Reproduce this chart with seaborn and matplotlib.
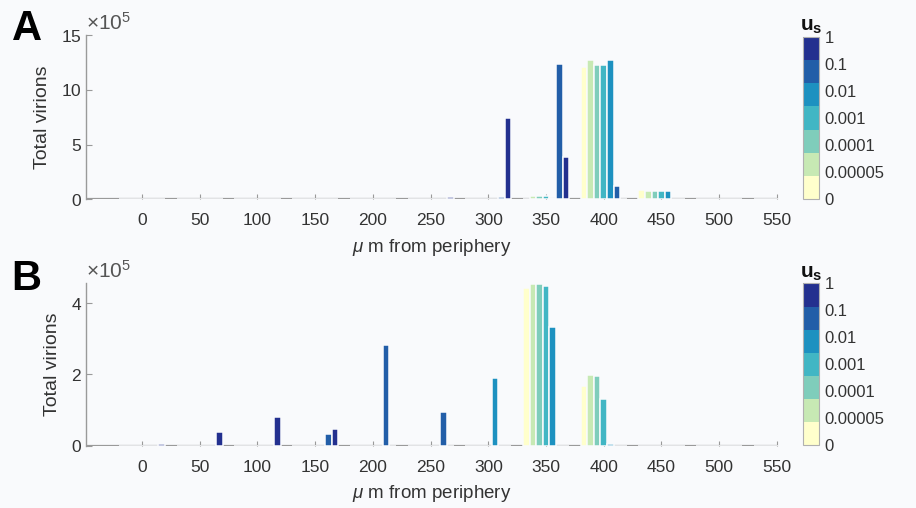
import numpy as np
import pandas as pd
import matplotlib
matplotlib.use("Agg")
import matplotlib.pyplot as plt
import seaborn as sns
from matplotlib.colors import ListedColormap, Normalize
from matplotlib.cm import ScalarMappable

# ---------------- data ----------------
positions = [0, 50, 100, 150, 200, 250, 300, 350, 400, 450, 500, 550]   # um from periphery
us_labels = ["0", "0.00005", "0.0001", "0.001", "0.01", "0.1", "1"]
us_colors = ["#ffffcc", "#c7e9b4", "#7fcdbb", "#41b6c4", "#1d91c0", "#225ea8", "#23308f"]
SCALE = 1e5

# Panel A, total virions (x 1e5), one list per u_s value
A_u0      = [0, 0, 0, 0, 0, 0, 0,    0.05, 12.05, 0.85, 0, 0]
A_u00005  = [0, 0, 0, 0, 0, 0, 0,    0.30, 12.75, 0.80, 0, 0]
A_u0001   = [0, 0, 0, 0, 0, 0, 0,    0.30, 12.30, 0.80, 0, 0]
A_u001    = [0, 0, 0, 0, 0, 0, 0,    0.35, 12.30, 0.80, 0, 0]
A_u01     = [0, 0, 0, 0, 0, 0, 0,    0.10, 12.75, 0.80, 0, 0]
A_u1e1    = [0, 0, 0, 0, 0, 0, 0.26, 12.40, 1.20, 0,    0, 0]
A_u1      = [0, 0, 0, 0, 0, 0.20, 7.40, 3.90, 0,  0,    0, 0]

# Panel B, total virions (x 1e5)
B_u0      = [0, 0, 0, 0, 0, 0, 0,    4.44, 1.69, 0, 0, 0]
B_u00005  = [0, 0, 0, 0, 0, 0, 0,    4.54, 1.98, 0, 0, 0]
B_u0001   = [0, 0, 0, 0, 0, 0, 0,    4.55, 1.95, 0, 0, 0]
B_u001    = [0, 0, 0, 0, 0, 0, 0,    4.48, 1.30, 0, 0, 0]
B_u01     = [0, 0, 0, 0, 0, 0, 1.90, 3.33, 0.05, 0, 0, 0]
B_u1e1    = [0, 0, 0, 0.33, 2.83, 0.95, 0, 0, 0, 0, 0, 0]
B_u1      = [0.05, 0.38, 0.81, 0.47, 0, 0, 0, 0, 0, 0, 0, 0]

A_series = [A_u0, A_u00005, A_u0001, A_u001, A_u01, A_u1e1, A_u1]
B_series = [B_u0, B_u00005, B_u0001, B_u001, B_u01, B_u1e1, B_u1]

xticks = list(range(0, 551, 50))
A_yticks = [0, 5, 10, 15]
B_yticks = [0, 2, 4]

# ---------------- style ----------------
BG = "#f9fafc"
TXT = "#333333"
GRAY = "#9a9a9a"
sns.set_style("white")
plt.rcParams["font.family"] = ["Liberation Sans", "DejaVu Sans"]
plt.rcParams["mathtext.fontset"] = "custom"
plt.rcParams["mathtext.rm"] = "Liberation Sans"
plt.rcParams["mathtext.bf"] = "Liberation Sans:bold"
plt.rcParams["mathtext.it"] = "Liberation Sans:italic"


def long_df(series):
    rows = []
    for lab, vals in zip(us_labels, series):
        for p, v in zip(positions, vals):
            rows.append({"pos": p, "us": lab, "virions": v * SCALE})
    return pd.DataFrame(rows)


fig = plt.figure(figsize=(9.16, 5.08), dpi=100, facecolor=BG)

axA = fig.add_axes([0.0939, 0.6073, 0.7555, 0.3238])
axB = fig.add_axes([0.0939, 0.1226, 0.7555, 0.3197])
caxA = fig.add_axes([0.8763, 0.6077, 0.0181, 0.3201])
caxB = fig.add_axes([0.8763, 0.1240, 0.0181, 0.3180])

palette = dict(zip(us_labels, us_colors))
cmap = ListedColormap(us_colors)

for ax, series, ylim_top, yt in [(axA, A_series, 15, A_yticks),
                                  (axB, B_series, 4.56, B_yticks)]:
    ax.set_facecolor(BG)
    df = long_df(series)
    ax.axhline(0, color=GRAY, lw=1.6, zorder=2)
    sns.barplot(data=df, x="pos", y="virions", hue="us", hue_order=us_labels,
                palette=palette, native_scale=True, errorbar=None, width=0.8,
                saturation=1, legend=False, ax=ax,
                edgecolor=BG, linewidth=1.1, zorder=3)
    ax.set_xlim(-48.5, 551)
    ax.set_ylim(0, ylim_top * SCALE)
    ax.set_xticks(xticks)
    ax.set_yticks([t * SCALE for t in yt])
    ax.ticklabel_format(axis="y", style="sci", scilimits=(5, 5), useMathText=True)
    ax.yaxis.get_offset_text().set_visible(False)
    ax.text(0.0, 1.008, r"$\times10^{5}$", transform=ax.transAxes, ha="left",
            va="bottom", fontsize=15, color="#555555")
    for s in ["top", "right", "bottom"]:
        ax.spines[s].set_visible(False)
    ax.spines["left"].set_color(GRAY)
    ax.spines["left"].set_linewidth(1.0)
    ax.tick_params(axis="x", direction="in", length=3.5, width=0.8, color=GRAY,
                   labelsize=12.5, labelcolor=TXT, pad=10, bottom=True)
    ax.tick_params(axis="y", direction="in", length=4, width=0.8, color=GRAY,
                   labelsize=12.5, labelcolor=TXT, pad=3, left=True)
    ax.set_xlabel(r"$\mu$ m from periphery", fontsize=13.5, color=TXT, labelpad=6)
    ax.set_ylabel("Total virions", fontsize=14, color=TXT, labelpad=7)

for cax in (caxA, caxB):
    sm = ScalarMappable(norm=Normalize(0, 6), cmap=cmap)
    cb = fig.colorbar(sm, cax=cax, ticks=range(7))
    cb.set_ticklabels(us_labels)
    cb.outline.set_edgecolor("#b0b0b0")
    cb.outline.set_linewidth(0.8)
    cax.tick_params(length=0, labelsize=12, labelcolor=TXT, pad=4)
    cax.text(0.5, 1.005, r"$\mathbf{u_s}$", transform=cax.transAxes, ha="center",
             va="bottom", fontsize=15, color="#111111")

fig.text(12 / 916, 1 - 40 / 508, "A", fontsize=30, fontweight="bold", color="black",
         va="baseline", ha="left")
fig.text(11 / 916, 1 - 290 / 508, "B", fontsize=30, fontweight="bold", color="black",
         va="baseline", ha="left")

fig.savefig("out.png", dpi=100, facecolor=BG)
